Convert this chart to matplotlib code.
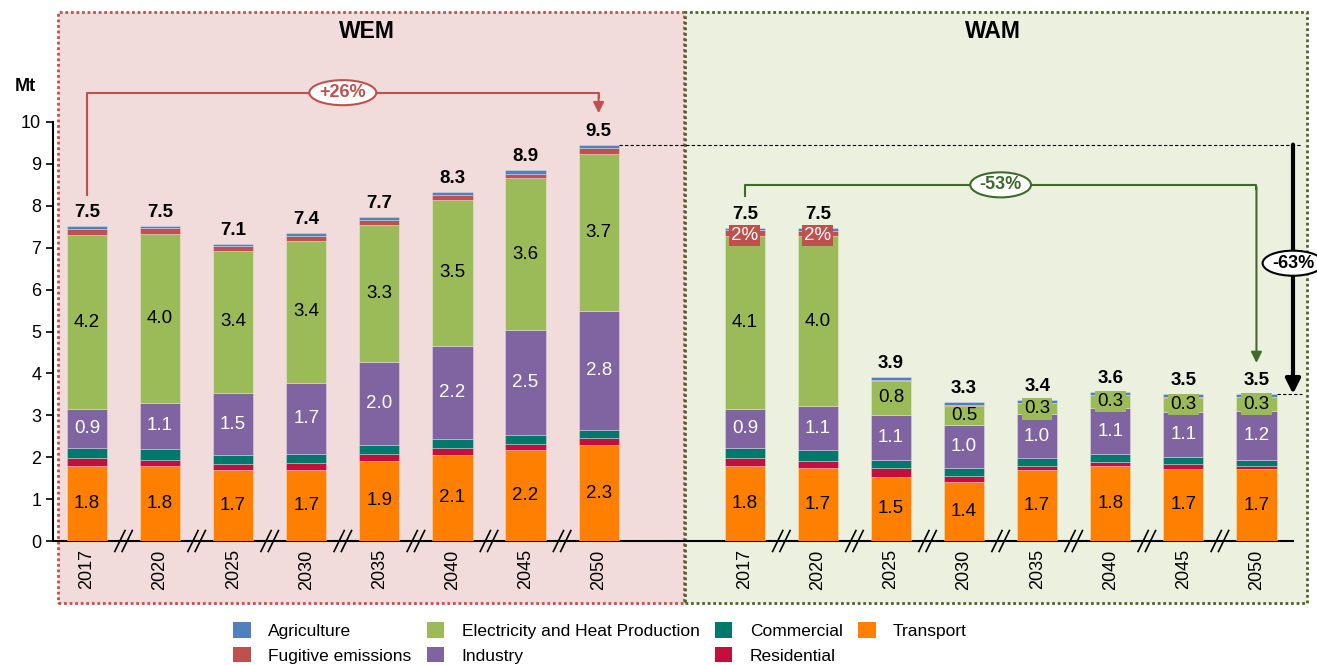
import matplotlib
matplotlib.use("Agg")
import matplotlib.pyplot as plt
from matplotlib.patches import Rectangle, Patch
import numpy as np

plt.rcParams['font.family'] = ['Liberation Sans', 'DejaVu Sans']

years = ['2017', '2020', '2025', '2030', '2035', '2040', '2045', '2050']

wem_transport = [1.78, 1.78, 1.69, 1.69, 1.91, 2.06, 2.16, 2.29]
wem_residential = [0.20, 0.15, 0.15, 0.16, 0.17, 0.15, 0.15, 0.16]
wem_commercial = [0.24, 0.27, 0.21, 0.22, 0.22, 0.23, 0.21, 0.20]
wem_industry = [0.92, 1.09, 1.48, 1.70, 1.97, 2.22, 2.51, 2.84]
wem_electricity = [4.16, 4.04, 3.40, 3.40, 3.27, 3.49, 3.63, 3.74]
wem_fugitive = [0.15, 0.13, 0.11, 0.12, 0.11, 0.11, 0.10, 0.14]
wem_agriculture = [0.06, 0.05, 0.05, 0.07, 0.09, 0.08, 0.10, 0.09]

wam_transport = [1.78, 1.74, 1.53, 1.40, 1.69, 1.78, 1.73, 1.71]
wam_residential = [0.20, 0.17, 0.21, 0.15, 0.10, 0.11, 0.11, 0.09]
wam_commercial = [0.24, 0.25, 0.20, 0.20, 0.19, 0.18, 0.16, 0.14]
wam_industry = [0.93, 1.07, 1.06, 1.01, 1.04, 1.10, 1.09, 1.16]
wam_electricity = [4.13, 4.04, 0.83, 0.47, 0.27, 0.31, 0.33, 0.33]
wam_fugitive = [0.14, 0.14, 0.01, 0.01, 0.01, 0.01, 0.01, 0.01]
wam_agriculture = [0.05, 0.05, 0.07, 0.07, 0.06, 0.07, 0.07, 0.07]

sectors = ['Transport', 'Residential', 'Commercial', 'Industry',
           'Electricity and Heat Production', 'Fugitive emissions', 'Agriculture']
colors = {
    'Transport': '#FF8000',
    'Residential': '#C40F3E',
    'Commercial': '#00786B',
    'Industry': '#8064A2',
    'Electricity and Heat Production': '#9BBB59',
    'Fugitive emissions': '#C0504D',
    'Agriculture': '#4F81BD',
}
label_color = {'Transport': 'black', 'Industry': 'white',
               'Electricity and Heat Production': 'black'}

wem = [wem_transport, wem_residential, wem_commercial, wem_industry,
       wem_electricity, wem_fugitive, wem_agriculture]
wam = [wam_transport, wam_residential, wam_commercial, wam_industry,
       wam_electricity, wam_fugitive, wam_agriculture]

W, H = 1317, 665
fig = plt.figure(figsize=(W / 100, H / 100), dpi=100)
fig.patch.set_facecolor('white')

# scenario boxes (figure pixels)
def fbox(x0, x1, y0, y1, fc, ec):
    r = Rectangle((x0 / W, 1 - y1 / H), (x1 - x0) / W, (y1 - y0) / H,
                  transform=fig.transFigure, facecolor=fc, edgecolor=ec,
                  linewidth=2, linestyle=(0, (1, 1)), zorder=-10)
    fig.patches.append(r)

fbox(58, 684, 12, 603, '#F2DCDB', '#C0504D')
fbox(685, 1307, 12, 603, '#EBF1DE', '#4F6228')
fig.text(367 / W, 1 - 32 / H, 'WEM', ha='center', va='center',
         fontsize=16.5, fontweight='bold')
fig.text(993 / W, 1 - 32 / H, 'WAM', ha='center', va='center',
         fontsize=16.5, fontweight='bold')

ax = fig.add_axes([53 / W, 1 - 541 / H, (1293 - 53) / W, (541 - 122) / H])
ax.patch.set_visible(False)
ax.set_xlim(-0.465, 16.5)
ax.set_ylim(0, 10)

bw = 0.55
groups = [(np.arange(8), wem, False), (np.arange(8) + 9, wam, True)]
totals_all = []
for xs, data, is_wam in groups:
    bottom = np.zeros(8)
    for name, vals in zip(sectors, data):
        vals = np.array(vals)
        ax.bar(xs, vals, bw, bottom=bottom, color=colors[name],
               edgecolor=(1, 1, 1, 0.35), linewidth=0.6, zorder=3)
        if name in label_color:
            for x, b, v in zip(xs, bottom, vals):
                kw = {}
                if name.startswith('Electricity') and v < 0.4:
                    kw['bbox'] = dict(boxstyle='square,pad=0.12',
                                      fc=colors[name], ec='none')
                ax.text(x, b + v / 2, f'{v:.1f}', ha='center', va='center',
                        fontsize=13.5, color=label_color[name], zorder=5, **kw)
        if is_wam and name == 'Fugitive emissions':
            tot = np.sum(np.array(data), axis=0)
            for x, b, v, t in zip(xs, bottom, vals, tot):
                if v > 0.05:
                    ax.text(x, b + v / 2 - 0.05, f'{v / t * 100:.0f}%',
                            ha='center', va='center', fontsize=13.5,
                            color='white', zorder=6,
                            bbox=dict(boxstyle='square,pad=0.1',
                                      fc=colors[name], ec='none'))
        bottom = bottom + vals
    totals_all.append(bottom)
    for x, t in zip(xs, bottom):
        ax.text(x, t + 0.12, f'{t:.1f}', ha='center', va='bottom',
                fontsize=13.5, fontweight='bold', zorder=5)
    # break marks
    for m in (xs[:-1] + xs[1:]) / 2:
        for off in (-0.05, 0.05):
            ax.plot([m + off - 0.07, m + off + 0.07], [-0.25, 0.25],
                    color='black', lw=1.2, clip_on=False, zorder=6)

wem_tot, wam_tot = totals_all

# axes styling
for s in ('top', 'right'):
    ax.spines[s].set_visible(False)
ax.spines['left'].set_linewidth(1.5)
ax.spines['bottom'].set_linewidth(1.5)
ax.set_yticks(range(0, 11))
ax.tick_params(axis='y', labelsize=13, length=5, width=1.2, direction='out')
ax.set_xticks(list(range(8)) + list(range(9, 17)))
ax.set_xticklabels(years + years, rotation=90, fontsize=13)
ax.tick_params(axis='x', length=0, pad=6)
ax.text(-0.85, 10.85, 'Mt', ha='center', va='center', fontsize=13,
        fontweight='bold')

# +26% annotation
red = '#C0504D'
y_h = 10.7
ax.plot([0, 0, 7, 7], [wem_tot[0] + 0.75, y_h, y_h, y_h - 0.1], color=red,
        lw=1.5, clip_on=False, zorder=4)
ax.annotate('', xy=(7, wem_tot[-1] + 0.75), xytext=(7, y_h - 0.05),
            arrowprops=dict(arrowstyle='-|>', color=red, lw=1.5,
                            mutation_scale=16, shrinkA=0, shrinkB=0),
            annotation_clip=False, zorder=4)
ax.text(3.5, y_h, f'{(wem_tot[-1] / wem_tot[0] - 1) * 100:+.0f}%',
        ha='center', va='center', fontsize=13, fontweight='bold', color=red,
        zorder=6, bbox=dict(boxstyle='ellipse,pad=0.02', fc='white', ec=red,
                            lw=1.5))

# -53% annotation
green = '#3F6B2A'
y_g = 8.5
ax.plot([9, 9, 16, 16], [wam_tot[0] + 0.76, y_g, y_g, y_g - 0.1],
        color=green, lw=1.5, zorder=4)
ax.annotate('', xy=(16, wam_tot[-1] + 0.74), xytext=(16, y_g - 0.05),
            arrowprops=dict(arrowstyle='-|>', color=green, lw=1.5,
                            mutation_scale=16, shrinkA=0, shrinkB=0),
            annotation_clip=False, zorder=4)
ax.text(12.5, y_g, f'{(wam_tot[-1] / wam_tot[0] - 1) * 100:.0f}%',
        ha='center', va='center', fontsize=13, fontweight='bold', color=green,
        zorder=6, bbox=dict(boxstyle='ellipse,pad=0.02', fc='white',
                            ec=green, lw=1.5))

# -63% comparison
ax.plot([7 + bw / 2, 16.62], [wem_tot[-1]] * 2, color='black', lw=0.8,
        ls=(0, (3, 2)), clip_on=False, zorder=4)
ax.plot([16 + bw / 2, 16.62], [wam_tot[-1]] * 2, color='black', lw=0.8,
        ls=(0, (3, 2)), clip_on=False, zorder=4)
ax.annotate('', xy=(16.5, wam_tot[-1]), xytext=(16.5, wem_tot[-1]),
            arrowprops=dict(arrowstyle='-|>', color='black', lw=3,
                            mutation_scale=22, shrinkA=0, shrinkB=0),
            annotation_clip=False, zorder=5)
ax.text(16.5, 6.63, f'{(wam_tot[-1] / wem_tot[-1] - 1) * 100:.0f}%',
        ha='center', va='center', fontsize=13, fontweight='bold',
        color='black', zorder=7,
        bbox=dict(boxstyle='ellipse,pad=0.02', fc='white', ec='black',
                  lw=1.5))

# legend
order = ['Agriculture', 'Fugitive emissions',
         'Electricity and Heat Production', 'Industry',
         'Commercial', 'Residential', 'Transport']
handles = [Patch(facecolor=colors[n], edgecolor='none', label=n) for n in order]
fig.legend(handles=handles, ncol=4, loc='center',
           bbox_to_anchor=(600 / W, 1 - 643 / H), frameon=False,
           fontsize=12.5, handlelength=1.0, handleheight=1.0,
           handletextpad=1.0, columnspacing=0.9, labelspacing=0.45,
           borderaxespad=0, borderpad=0)

fig.savefig('out.png', dpi=100)
